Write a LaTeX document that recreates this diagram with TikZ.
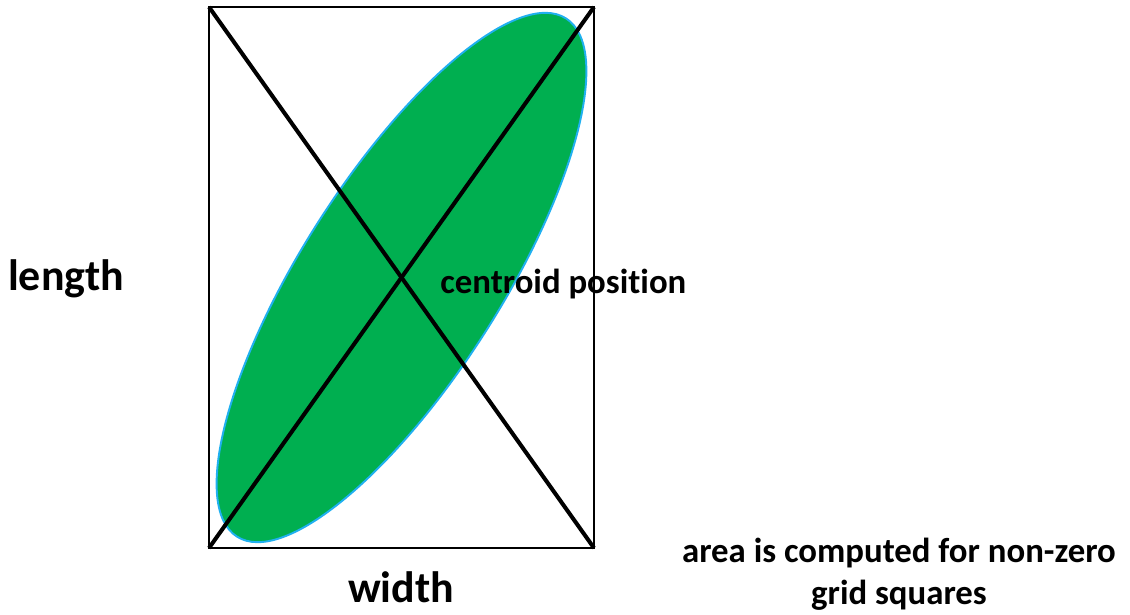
\documentclass[tikz,border=0pt]{standalone}
\usepackage{fontspec}
\setmainfont{Carlito}[RawFeature={-liga}]
\definecolor{fillgreen}{HTML}{00AF50}
\definecolor{edgeblue}{HTML}{20B0F0}
\begin{document}
\begin{tikzpicture}[x=0.02cm,y=-0.02cm,
  frame/.style={draw=black,line width=1.7pt},
  diag/.style={draw=black,line width=2.3pt},
  blob/.style={fill=fillgreen,draw=edgeblue,line width=1.1pt},
  bigtxt/.style={font=\bfseries\fontsize{25}{28}\selectfont,inner sep=0pt},
  midtxt/.style={font=\bfseries\fontsize{19.8}{23}\selectfont,inner sep=0pt,align=center}]
\useasboundingbox (0,0) rectangle (1130,615);
\coordinate (c) at (401.5,277.5);
\fill[blob, rotate around={57.6:(c)}] (c) ellipse [x radius=6.14cm, y radius=2.0cm];
\coordinate (tl) at (209,7);
\coordinate (tr) at (594,7);
\coordinate (bl) at (209,548);
\coordinate (br) at (594,548);
\draw[frame] (tl) rectangle (br);
\draw[diag] (tl) -- (br);
\draw[diag] (bl) -- (tr);
\node[bigtxt,anchor=base] (len) at (66,290) {length};
\node[bigtxt,anchor=base] (wid) at (401,602) {width};
\node[midtxt,anchor=base west] (cen) at (440,293) {centroid posit\kern0pt ion};
\node[midtxt,anchor=base] (area1) at (899,562) {area is computed for non-zero};
\node[midtxt,anchor=base] (area2) at (899,604) {grid squares};
\end{tikzpicture}
\end{document}
